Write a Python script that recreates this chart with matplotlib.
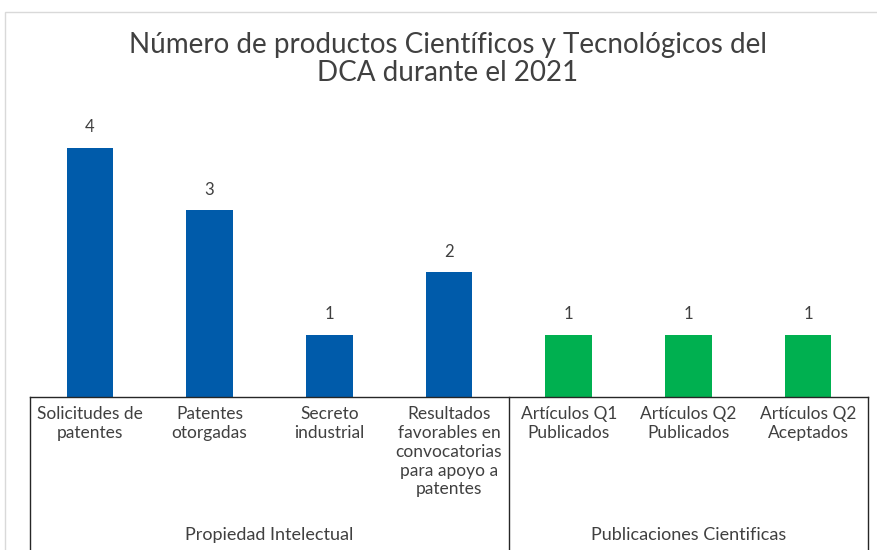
import matplotlib.pyplot as plt
from matplotlib.patches import Rectangle
from matplotlib.transforms import blended_transform_factory

categories = [
    "Solicitudes de\npatentes",
    "Patentes\notorgadas",
    "Secreto\nindustrial",
    "Resultados\nfavorables en\nconvocatorias\npara apoyo a\npatentes",
    "Artículos Q1\nPublicados",
    "Artículos Q2\nPublicados",
    "Artículos Q2\nAceptados",
]
values = [4, 3, 1, 2, 1, 1, 1]
groups = ["Propiedad Intelectual", "Publicaciones Cientificas"]
group_sizes = [4, 3]
group_colors = ["#005BAA", "#00B050"]

plt.rcParams['font.family'] = ['Lato', 'DejaVu Sans']
text_color = '#404040'

fig = plt.figure(figsize=(8.78, 5.5), dpi=100)
fig.patch.set_facecolor('white')

# light chart frame, open at the right and bottom
fig.patches.append(Rectangle((5 / 878, -0.1), 1.2, (550 - 12) / 550 + 0.1,
                             transform=fig.transFigure, fill=False,
                             edgecolor='#D9D9D9', linewidth=1.0))

ax = fig.add_axes([30 / 878, 153 / 550, 838 / 878, 287 / 550])
ax.set_facecolor('none')

colors = []
for size, color in zip(group_sizes, group_colors):
    colors += [color] * size

x = list(range(len(categories)))
bars = ax.bar(x, values, width=0.39, color=colors, zorder=2)
for xi, v in zip(x, values):
    ax.text(xi, v + 0.2, str(v), ha='center', va='bottom',
            fontsize=12, color=text_color)

ax.set_xlim(-0.5, len(categories) - 0.5)
ax.set_ylim(0, 4.607)
ax.set_xticks([])
ax.set_yticks([])
for side in ['top', 'right', 'left']:
    ax.spines[side].set_visible(False)
ax.spines['bottom'].set_color('#262626')
ax.spines['bottom'].set_linewidth(1.0)

# two-level category axis below the plot
trans = blended_transform_factory(ax.transData, fig.transFigure)
for xi, label in zip(x, categories):
    ax.text(xi, 1 - 406 / 550, label, transform=trans, ha='center', va='top',
            fontsize=12.5, color=text_color, linespacing=1.22)

edges = [-0.5]
for size in group_sizes:
    edges.append(edges[-1] + size)
for xe in edges:
    ax.plot([xe, xe], [1 - 397 / 550, 0], transform=trans, color='#262626',
            linewidth=1.0, clip_on=False)
for name, lo, hi in zip(groups, edges[:-1], edges[1:]):
    ax.text((lo + hi) / 2, 1 - 535 / 550, name, transform=trans,
            ha='center', va='center', fontsize=13, color=text_color)

fig.text(448 / 878, 1 - 59 / 550,
         "Número de productos Científicos y Tecnológicos del\nDCA durante el 2021",
         ha='center', va='center', fontsize=20, color=text_color,
         linespacing=1.12)

fig.savefig('out.png', dpi=100)
